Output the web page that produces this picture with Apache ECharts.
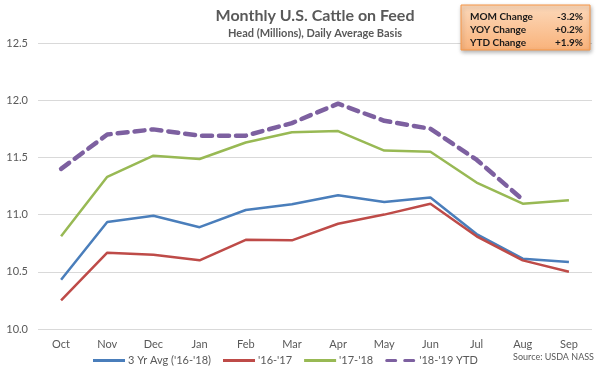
<!DOCTYPE html>
<html><head><meta charset="utf-8">
<script src="https://cdn.jsdelivr.net/npm/echarts@6/dist/echarts.min.js"></script>
<style>html,body{margin:0;padding:0;background:#fff}#c{width:600px;height:369px}</style>
</head><body><div id="c"></div>
<script>
const categories = ['Oct','Nov','Dec','Jan','Feb','Mar','Apr','May','Jun','Jul','Aug','Sep'];
const avg3yr = [10.43,10.935,10.99,10.89,11.04,11.09,11.17,11.11,11.15,10.83,10.615,10.585];
const y1617 = [10.25,10.667,10.65,10.60,10.78,10.775,10.92,11.00,11.095,10.81,10.60,10.50];
const y1718 = [10.81,11.33,11.515,11.486,11.63,11.72,11.73,11.56,11.55,11.28,11.095,11.125];
const y1819 = [11.40,11.70,11.745,11.69,11.69,11.80,11.97,11.82,11.75,11.48,11.13,null];
const seriesNames = ["3 Yr Avg ('16-'18)","'16-'17","'17-'18","'18-'19 YTD"];
const boxLabels = ['MOM Change','YOY Change','YTD Change'];
const boxValues = ['-3.2%','+0.2%','+1.9%'];
const yTicks = {min:10.0, max:12.5, interval:0.5};

const F = 'Lato, "Liberation Sans", sans-serif';
const chart = echarts.init(document.getElementById('c'));
const mk = (name, data, color, width, type) => ({
  name, type:'line', data, symbol:'none', smooth:false,
  lineStyle:{color, width, type, cap: Array.isArray(type) ? 'round' : 'butt'},
  itemStyle:{color}
});
const boxGraphics = [];
boxLabels.forEach((t,i)=>{
  boxGraphics.push({type:'text', x:470, y:17+i*13, z:10, style:{text:t, font:'bold 10px '+F, fill:'#1a1a1a', verticalAlign:'middle'}});
  boxGraphics.push({type:'text', x:583, y:17+i*13, z:10, style:{text:boxValues[i], font:'bold 10px '+F, fill:'#1a1a1a', align:'right', verticalAlign:'middle'}});
});
const solidIcon = 'path://M0,0h32v3h-32z';
const dashIcon = 'path://M1.5,0h9a1.5,1.5 0 0 1 0,3h-9a1.5,1.5 0 0 1 0,-3z M19.5,0h9a1.5,1.5 0 0 1 0,3h-9a1.5,1.5 0 0 1 0,-3z';
chart.setOption({
  animation:false,
  title:{text:'Monthly U.S. Cattle on Feed', subtext:'Head (Millions), Daily Average Basis',
    left:310, textAlign:'center', top:3, itemGap:4,
    textStyle:{fontFamily:F, fontSize:16, fontWeight:'bold', color:'#595959'},
    subtextStyle:{fontFamily:F, fontSize:11, fontWeight:'bold', color:'#595959'}},
  grid:{left:38, right:8, top:43, bottom:40, containLabel:false},
  xAxis:{type:'category', data:categories, boundaryGap:true,
    axisLine:{show:false}, axisTick:{show:false},
    axisLabel:{fontFamily:F, fontSize:11, color:'#595959', margin:10}},
  yAxis:{type:'value', min:yTicks.min, max:yTicks.max, interval:yTicks.interval,
    axisLine:{show:false}, axisTick:{show:false},
    axisLabel:{fontFamily:F, fontSize:11, color:'#595959', margin:10, formatter:v=>v.toFixed(1)},
    splitLine:{lineStyle:{color:'#d9d9d9', width:1}}},
  legend:{left:88, top:350, itemWidth:32, itemHeight:3, itemGap:12,
    textStyle:{fontFamily:F, fontSize:11, color:'#595959', padding:[0,0,0,-2]},
    data:[
      {name:seriesNames[0], icon:solidIcon},
      {name:seriesNames[1], icon:solidIcon},
      {name:seriesNames[2], icon:solidIcon},
      {name:seriesNames[3], icon:dashIcon}
    ]},
  series:[
    mk(seriesNames[0], avg3yr, '#4a7ebb', 2.5, 'solid'),
    mk(seriesNames[1], y1617, '#be4b48', 2.5, 'solid'),
    mk(seriesNames[2], y1718, '#98b954', 2.5, 'solid'),
    mk(seriesNames[3], y1819, '#7d60a0', 4.5, [10,7])
  ],
  graphic:[
    {type:'rect', z:5, shape:{x:461, y:5, width:129, height:45},
     style:{fill:new echarts.graphic.LinearGradient(0,0,0,1,[{offset:0,color:'#fcd9bb'},{offset:1,color:'#f9b27a'}]),
       stroke:'#f79646', lineWidth:1, shadowBlur:4, shadowOffsetX:1, shadowOffsetY:2, shadowColor:'rgba(0,0,0,0.3)'}},
    ...boxGraphics,
    {type:'text', x:594, y:357, style:{text:'Source: USDA NASS', font:'9px '+F, fill:'#595959', align:'right', verticalAlign:'middle'}}
  ]
});
</script></body></html>
